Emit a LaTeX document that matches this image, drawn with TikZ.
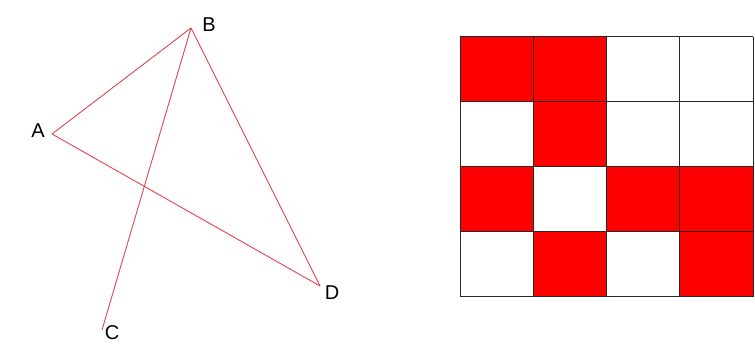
\documentclass[tikz,border=0pt]{standalone}
\usepackage{fontspec}
\setmainfont{Liberation Sans}
\usepackage{tikz}
\usetikzlibrary{positioning}
\definecolor{edgered}{RGB}{222, 70, 75}
\definecolor{cellred}{RGB}{255, 0, 0}
\definecolor{gridgray}{RGB}{40, 40, 40}

\begin{document}
\begin{tikzpicture}[x=1pt, y=-1pt, line width=0.9pt]
    \useasboundingbox[fill=white] (0,0) rectangle (755,347);
    \tikzset{ptlabel/.style={inner sep=0pt, font=\fontsize{20}{24}\selectfont}}

    % Points
    \coordinate (A) at (52,134);
    \coordinate (B) at (191,28);
    \coordinate (C) at (102,330);
    \coordinate (D) at (320,286);

    % Labels
    \node (lblA) [ptlabel] at (38,131) {A};
    \node (lblB) [ptlabel] at (209,25) {B};
    \node (lblC) [ptlabel] at (112,333) {C};
    \node (lblD) [ptlabel] at (332,293) {D};

    % Lines
    \draw[edgered] (A) -- (B);
    \draw[edgered] (A) -- (D);
    \draw[edgered] (B) -- (D);
    \draw[edgered] (B) -- (C);

    % Grid
    \foreach \r/\c in {0/0, 0/1, 1/1, 2/0, 2/2, 2/3, 3/1, 3/3}
        \fill[cellred] (460+73.3*\c, 36.7+65*\r) rectangle ++(73.3,65);
    \foreach \i in {0,...,4} {
        \draw[gridgray] (460+73.3*\i, 36.7) -- (460+73.3*\i, 296.7);
        \draw[gridgray] (460, 36.7+65*\i) -- (753.2, 36.7+65*\i);
    }
\end{tikzpicture}
\end{document}
